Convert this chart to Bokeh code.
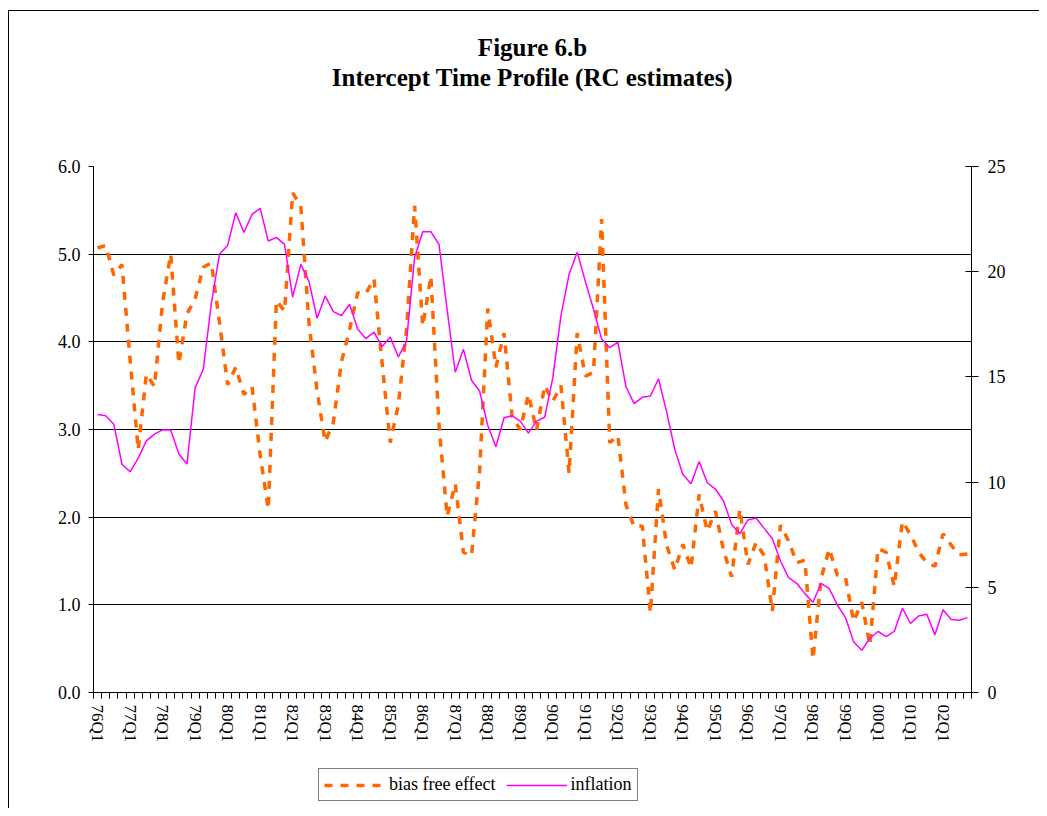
from bokeh.plotting import figure
from bokeh.layouts import column
from bokeh.models import (Range1d, LinearAxis, FixedTicker, Title, Legend, LegendItem,
                          ColumnDataSource, NumeralTickFormatter, Grid)
from bokeh.embed import file_html
from bokeh.resources import INLINE

# ---- data (quarterly, 76Q1 .. 02Q4) ----
year_labels = ["76Q1", "77Q1", "78Q1", "79Q1", "80Q1", "81Q1", "82Q1", "83Q1", "84Q1",
               "85Q1", "86Q1", "87Q1", "88Q1", "89Q1", "90Q1", "91Q1", "92Q1", "93Q1",
               "94Q1", "95Q1", "96Q1", "97Q1", "98Q1", "99Q1", "00Q1", "01Q1", "02Q1"]

bias_free = [5.07, 5.10, 4.76, 4.88, 3.80, 2.77, 3.63, 3.49, 4.45, 5.00,
             3.75, 4.32, 4.49, 4.85, 4.90, 4.22, 3.51, 3.71, 3.40, 3.49,
             2.71, 2.09, 4.47, 4.35, 5.70, 5.55, 4.22, 3.44, 2.86, 3.08,
             3.77, 4.14, 4.56, 4.55, 4.72, 3.76, 2.85, 3.28, 4.14, 5.55,
             4.18, 4.75, 3.05, 2.01, 2.38, 1.60, 1.56, 2.54, 4.38, 3.71,
             4.10, 3.14, 3.00, 3.40, 2.99, 3.50, 3.32, 3.50, 2.50, 4.10,
             3.61, 3.65, 5.40, 2.85, 2.93, 2.14, 1.89, 1.90, 0.91, 2.32,
             1.68, 1.40, 1.69, 1.42, 2.26, 1.84, 2.07, 1.62, 1.32, 2.09,
             1.46, 1.71, 1.56, 0.93, 1.91, 1.73, 1.48, 1.51, 0.38, 1.30,
             1.64, 1.34, 1.31, 0.81, 1.03, 0.54, 1.64, 1.60, 1.21, 1.95,
             1.80, 1.60, 1.48, 1.44, 1.81, 1.68, 1.57, 1.58]

inflation = [13.21, 13.15, 12.75, 10.85, 10.49, 11.14, 11.96, 12.28, 12.48, 12.48,
             11.34, 10.86, 14.48, 15.35, 18.50, 20.84, 21.25, 22.80, 21.86, 22.72,
             23.01, 21.46, 21.63, 21.30, 18.79, 20.35, 19.54, 17.79, 18.85, 18.10,
             17.92, 18.45, 17.26, 16.82, 17.13, 16.44, 16.90, 15.95, 16.69, 20.68,
             21.90, 21.90, 21.30, 18.20, 15.22, 16.31, 14.84, 14.32, 12.69, 11.68,
             13.06, 13.15, 12.90, 12.33, 12.90, 13.08, 14.97, 17.91, 19.87, 20.93,
             19.54, 18.23, 16.80, 16.39, 16.65, 14.53, 13.73, 14.03, 14.09, 14.91,
             13.34, 11.55, 10.36, 9.92, 10.98, 9.97, 9.67, 9.10, 7.99, 7.55,
             8.20, 8.29, 7.80, 7.31, 6.25, 5.46, 5.19, 4.70, 4.29, 5.19,
             4.94, 4.16, 3.56, 2.41, 2.01, 2.58, 2.90, 2.66, 2.90, 4.01,
             3.28, 3.64, 3.72, 2.74, 3.93, 3.47, 3.43, 3.56]

left_ticks = [0, 1, 2, 3, 4, 5, 6]
right_ticks = [0, 5, 10, 15, 20, 25]
series_names = ["bias free effect", "inflation"]
title_lines = ["Figure 6.b", "Intercept Time Profile (RC estimates)"]

n = len(inflation)
xs = list(range(n))
src = ColumnDataSource(dict(x=xs, bias=bias_free, infl=inflation))

SERIF = "Liberation Serif"
ORANGE = "#FF6600"
MAGENTA = "#FF00FF"
W = 1030

p = figure(width=W, height=749, output_backend="svg", toolbar_location=None,
           x_range=Range1d(-0.5, n - 0.5), y_range=Range1d(0, 6),
           min_border_left=84, min_border_right=68, min_border_top=155,
           min_border_bottom=68, outline_line_color=None)
p.extra_y_ranges = {"infl": Range1d(0, 25)}

# titles: the first one added sits nearest the plot (a blank spacer)
p.add_layout(Title(text=" ", standoff=72, text_font_size="1px"), "above")
p.add_layout(Title(text=title_lines[1], align="center", offset=3, standoff=2,
                   text_font=SERIF, text_font_style="bold", text_font_size="25px",
                   text_color="black"), "above")
p.add_layout(Title(text=title_lines[0], align="center", offset=3, standoff=0,
                   text_font=SERIF, text_font_style="bold", text_font_size="25px",
                   text_color="black"), "above")

# x axis
xax = p.xaxis[0]
xax.ticker = FixedTicker(ticks=[4 * k for k in range(len(year_labels))],
                         minor_ticks=[k - 0.5 for k in range(n + 1)])
xax.major_label_overrides = {4 * k: lab for k, lab in enumerate(year_labels)}
xax.major_label_orientation = "vertical"
xax.major_tick_out = 0
xax.major_tick_in = 0
xax.minor_tick_out = 6
xax.minor_tick_in = 0
xax.minor_tick_line_color = "black"
xax.axis_line_color = "black"
xax.major_label_text_font = SERIF
xax.major_label_text_font_size = "17px"
xax.major_label_text_color = "black"
xax.major_label_standoff = 6

# left axis
yax = p.yaxis[0]
yax.ticker = FixedTicker(ticks=left_ticks)
yax.formatter = NumeralTickFormatter(format="0.0")
yax.major_tick_out = 5
yax.major_tick_in = 0
yax.minor_tick_out = 0
yax.minor_tick_in = 0
yax.axis_line_color = "black"
yax.major_tick_line_color = "black"
yax.major_label_text_font = SERIF
yax.major_label_text_font_size = "18px"
yax.major_label_text_color = "black"
yax.major_label_standoff = 8

# right axis
rax = LinearAxis(y_range_name="infl", ticker=FixedTicker(ticks=right_ticks))
rax.major_tick_out = 7
rax.major_tick_in = 6
rax.minor_tick_out = 0
rax.minor_tick_in = 0
rax.axis_line_color = "black"
rax.major_tick_line_color = "black"
rax.major_label_text_font = SERIF
rax.major_label_text_font_size = "18px"
rax.major_label_text_color = "black"
rax.major_label_standoff = 9
p.add_layout(rax, "right")

p.xgrid.grid_line_color = None
p.ygrid.ticker = FixedTicker(ticks=left_ticks[:-1])
p.ygrid.grid_line_color = "black"
p.ygrid.grid_line_width = 1
p.add_layout(Grid(dimension=1, ticker=FixedTicker(ticks=left_ticks[-1:]),
                  grid_line_color="#9a9a9a", grid_line_width=1.5))

p.line("x", "bias", source=src, line_color=ORANGE, line_width=3.5, line_dash="8 8")
p.line("x", "infl", source=src, y_range_name="infl", line_color=MAGENTA, line_width=1.5)

# legend strip below the chart (its frame is aligned with the chart's frame)
q = figure(width=W, height=48, output_backend="svg", toolbar_location=None,
           x_range=Range1d(0, 1), y_range=Range1d(0, 1),
           min_border=0, outline_line_color=None)
q.axis.visible = False
q.grid.visible = False
proxy = ColumnDataSource(dict(x=[5, 6], y=[5, 5]))  # outside the visible range
lb = q.line("x", "y", source=proxy, line_color=ORANGE, line_width=3.5, line_dash="8 8")
li = q.line("x", "y", source=proxy, line_color=MAGENTA, line_width=1.5)
legend = Legend(items=[LegendItem(label=series_names[0], renderers=[lb]),
                       LegendItem(label=series_names[1], renderers=[li])],
                orientation="horizontal", location=(225, 7),
                label_text_font=SERIF, label_text_font_size="18px",
                label_text_color="black", glyph_width=61, glyph_height=20,
                label_standoff=4, spacing=10, padding=5, margin=0,
                border_line_color="black", border_line_width=1,
                background_fill_alpha=1.0, label_height=20)
q.add_layout(legend, "center")

layout = column(p, q, spacing=0,
                styles={"margin-left": "8px", "margin-top": "10px",
                        "border-left": "1px solid black", "border-top": "1px solid black"})

open("out.html", "w").write(file_html(layout, INLINE))
